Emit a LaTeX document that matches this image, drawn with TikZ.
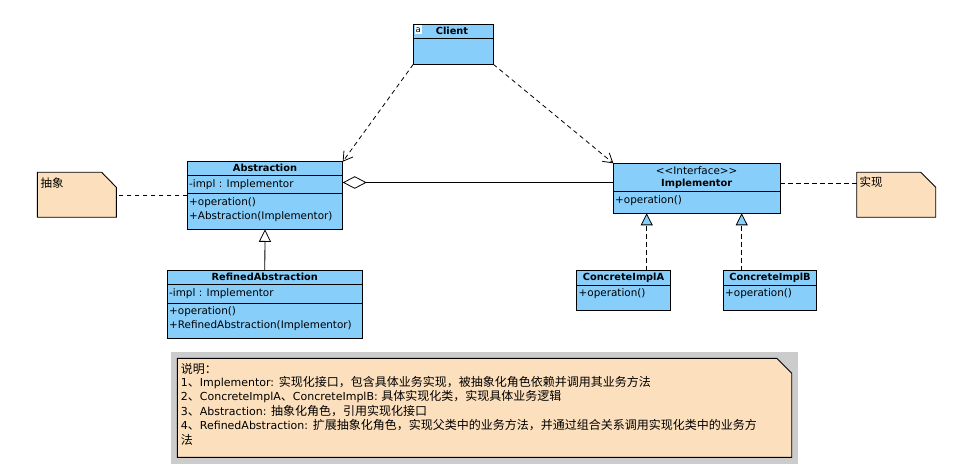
\documentclass[tikz,border=0pt]{standalone}
\usepackage{fontspec}
\setmainfont{DejaVu Sans}
\newfontfamily\cjk{Noto Sans CJK SC}
\usetikzlibrary{arrows.meta,calc}
\definecolor{umlblue}{RGB}{135,206,250}
\definecolor{notefill}{RGB}{252,223,188}
\definecolor{bggray}{RGB}{204,204,204}
\tikzset{
  classbox/.style={draw=black, fill=umlblue, line width=0.9pt, anchor=north west, inner sep=0pt, outer sep=0pt},
  sepline/.style={draw=black, line width=0.9pt},
  hdr/.style={font=\fontsize{9.8}{12}\selectfont\bfseries, inner sep=0pt},
  stereo/.style={font=\fontsize{10.4}{12}\selectfont, inner sep=0pt},
  mem/.style={font=\fontsize{10.4}{12}\selectfont, inner sep=0pt, anchor=west},
  notebox/.style={anchor=north west, inner sep=0pt, outer sep=0pt},
  noteline/.style={draw=black, line width=0.9pt, fill=notefill},
  notetxt/.style={font=\cjk\fontsize{11.5}{12}\selectfont, inner sep=0pt, anchor=west},
  bigtxt/.style={font=\fontsize{11}{12}\selectfont, inner sep=0pt, anchor=west},
  dashline/.style={draw=black, line width=0.8pt, dash pattern=on 4.5pt off 3.5pt},
  depend/.style={dashline, -{Straight Barb[length=9pt, width=11pt, line width=0.8pt]}},
  agg/.style={draw=black, line width=0.8pt, {Diamond[open, fill=white, length=24pt, width=12.5pt, line width=0.8pt]}-},
  gen/.style={draw=black, line width=0.8pt, -{Triangle[length=12.5pt, width=12pt, fill=white, line width=0.8pt]}},
  real/.style={dashline, -{Triangle[length=12pt, width=12pt, fill=umlblue, line width=0.8pt]}},
}
\begin{document}
\begin{tikzpicture}[x=1pt, y=-1pt]
\useasboundingbox[fill=white] (0,0) rectangle (954,473);

% ---------- Client ----------
\node[classbox, minimum width=80pt, minimum height=40pt] (client) at (413.3,24.3) {};
\draw[sepline] (client.west |- 0,38.3) -- (client.east |- 0,38.3);
\node[hdr] (clientT) at (452,31.3) {Client};
\node[fill=white, inner sep=0pt, minimum width=7pt, minimum height=9pt, font=\fontsize{8.5}{8.5}\selectfont, anchor=north west] (clientIcon) at (414.5,25.2) {a};

% ---------- Abstraction ----------
\node[classbox, minimum width=155.4pt, minimum height=67.6pt] (abs) at (187.3,161.7) {};
\draw[sepline] (abs.west |- 0,175) -- (abs.east |- 0,175);
\draw[sepline] (abs.west |- 0,193.3) -- (abs.east |- 0,193.3);
\node[hdr] (absT) at (265,168.3) {Abstraction};
\node[mem] (absA) at (189,184.2) {-impl : Implementor};
\node[mem] (absO1) at (189,202.3) {+operation()};
\node[mem] (absO2) at (189,216.3) {+Abstraction(Implementor)};

% ---------- RefinedAbstraction ----------
\node[classbox, minimum width=195pt, minimum height=68.3pt] (ref) at (167.3,270) {};
\draw[sepline] (ref.west |- 0,284.3) -- (ref.east |- 0,284.3);
\draw[sepline] (ref.west |- 0,303.3) -- (ref.east |- 0,303.3);
\node[hdr] (refT) at (264.8,277.3) {RefinedAbstraction};
\node[mem] (refA) at (169,293.5) {-impl : Implementor};
\node[mem] (refO1) at (169,311.7) {+operation()};
\node[mem] (refO2) at (169,325.7) {+RefinedAbstraction(Implementor)};

% ---------- Implementor ----------
\node[classbox, minimum width=166.7pt, minimum height=50pt] (impl) at (613.3,163.3) {};
\draw[sepline] (impl.west |- 0,191.7) -- (impl.east |- 0,191.7);
\node[stereo] (implS) at (696.7,170.7) {<\kern0pt<Interface>\kern0pt>};
\node[hdr] (implT) at (696.7,184) {Implementor};
\node[mem] (implO) at (615,200.7) {+operation()};

% ---------- ConcreteImplA ----------
\node[classbox, minimum width=93.6pt, minimum height=39.6pt] (ciA) at (576.7,270.7) {};
\draw[sepline] (ciA.west |- 0,285) -- (ciA.east |- 0,285);
\node[hdr] (ciAT) at (623.5,277.7) {ConcreteImplA};
\node[mem] (ciAO) at (578.5,293.7) {+operation()};

% ---------- ConcreteImplB ----------
\node[classbox, minimum width=93.4pt, minimum height=39.6pt] (ciB) at (723.3,270.7) {};
\draw[sepline] (ciB.west |- 0,285) -- (ciB.east |- 0,285);
\node[hdr] (ciBT) at (770,277.7) {ConcreteImplB};
\node[mem] (ciBO) at (725,293.7) {+operation()};

% ---------- notes ----------
\node[notebox, minimum width=79pt, minimum height=45pt] (absNote) at (37.3,172.3) {};
\draw[noteline] (absNote.north west) -- ([xshift=-14.6pt]absNote.north east)
  -- ([yshift=-15pt]absNote.north east) -- (absNote.south east) -- (absNote.south west) -- cycle;
\node[notetxt] (absNoteT) at (40.5,182.7) {抽象};

\node[notebox, minimum width=79pt, minimum height=45pt] (implNote) at (856.7,172.3) {};
\draw[noteline] (implNote.north west) -- ([xshift=-15pt]implNote.north east)
  -- ([yshift=-15pt]implNote.north east) -- (implNote.south east) -- (implNote.south west) -- cycle;
\node[notetxt] (implNoteT) at (859.5,182.3) {实现};

% ---------- connectors ----------
\draw[depend] (client.south west) -- (abs.north east);
\draw[depend] (client.south east) -- (impl.north west);
\draw[agg] ([yshift=5.8pt]impl.west -| abs.east) -- ([yshift=5.8pt]impl.west);
\draw[gen] (ref.north) -- (abs.south);
\draw[real] ([xshift=23.2pt]ciA.north) -- ([xshift=23.2pt]ciA.north |- impl.south);
\draw[real] ([xshift=-28.3pt]ciB.north) -- ([xshift=-28.3pt]ciB.north |- impl.south);
\draw[dashline] (abs.west) -- (abs.west -| absNote.east);
\draw[dashline] ([yshift=5pt]impl.east) -- ([yshift=5pt]impl.east -| implNote.west);

% ---------- explanation note ----------
\node[notebox, fill=bggray, minimum width=626.7pt, minimum height=111.7pt] (bg) at (171,352.3) {};
\node[notebox, minimum width=614.4pt, minimum height=99pt] (bigNote) at (177.3,358.3) {};
\draw[noteline] (bigNote.north west) -- ([xshift=-15pt]bigNote.north east)
  -- ([yshift=-15pt]bigNote.north east) -- (bigNote.south east) -- (bigNote.south west) -- cycle;
\node[bigtxt] (L0) at (180.7,369) {{\cjk\fontsize{12}{12}\selectfont 说明：}};
\node[bigtxt] (L1) at (180.7,383) {1{\cjk\fontsize{12}{12}\selectfont 、}Implementor: {\cjk\fontsize{12}{12}\selectfont 实现化接口，包含具体业务实现，被抽象化角色依赖并调用其业务方法}};
\node[bigtxt] (L2) at (180.7,397) {2{\cjk\fontsize{12}{12}\selectfont 、}ConcreteImplA{\cjk\fontsize{12}{12}\selectfont 、}ConcreteImplB: {\cjk\fontsize{12}{12}\selectfont 具体实现化类，实现具体业务逻辑}};
\node[bigtxt] (L3) at (180.7,411) {3{\cjk\fontsize{12}{12}\selectfont 、}Abstraction: {\cjk\fontsize{12}{12}\selectfont 抽象化角色，引用实现化接口}};
\node[bigtxt] (L4) at (180.7,425) {4{\cjk\fontsize{12}{12}\selectfont 、}RefinedAbstraction: {\cjk\fontsize{12}{12}\selectfont 扩展抽象化角色，实现父类中的业务方法，并通过组合关系调用实现化类中的业务方}};
\node[bigtxt] (L5) at (180.7,439.5) {{\cjk\fontsize{12}{12}\selectfont 法}};
\end{tikzpicture}
\end{document}
